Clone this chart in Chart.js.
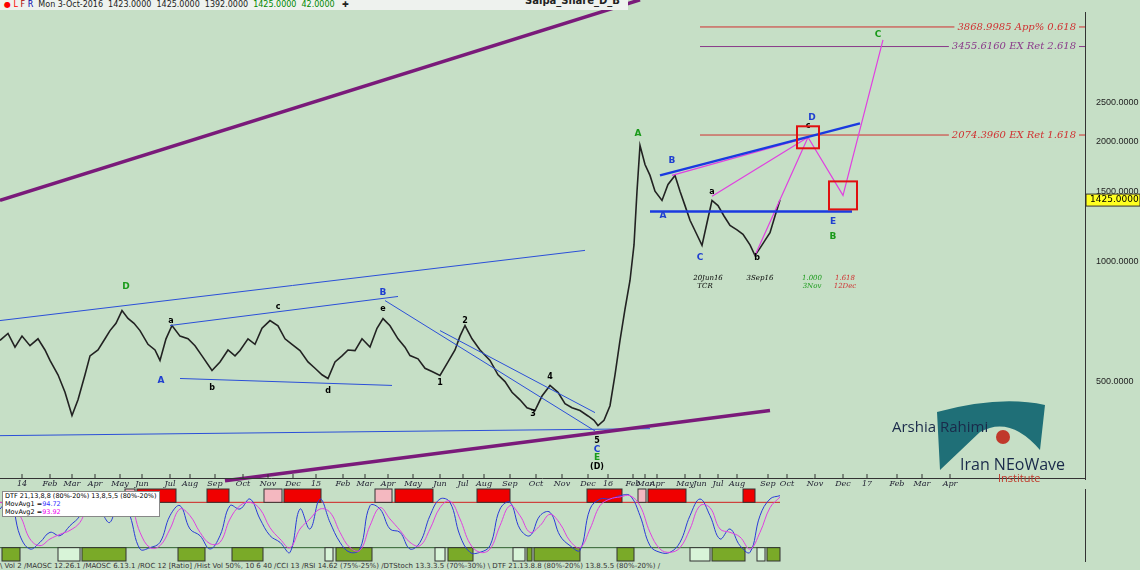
<!DOCTYPE html>
<html><head><meta charset="utf-8">
<script src="https://cdn.jsdelivr.net/npm/chart.js@4/dist/chart.umd.min.js"></script>
<style>
body{margin:0;width:1140px;height:570px;background:#c6dfc6;overflow:hidden;font-family:"DejaVu Sans",sans-serif;position:relative}
#top{position:absolute;left:0;top:0;width:1140px;height:10px;font-size:8px;line-height:10px;color:#222;white-space:nowrap}
#top .b{background:#eef2ee;display:inline-block;padding:0 4px;width:620px}
#c1{position:absolute;left:0;top:0}
#c2{position:absolute;left:0;top:488px}
.t{position:absolute;white-space:nowrap}
</style></head><body>
<canvas id="c1" width="1140" height="488"></canvas>
<canvas id="c2" width="1140" height="74"></canvas>
<div id="top"><span class="b"><span style="color:red">● L</span> <span style="color:#a00">F</span> <span style="color:#00a">R</span> &nbsp;Mon 3-Oct-2016 &nbsp;1423.0000 &nbsp;1425.0000 &nbsp;1392.0000 <span style="color:#080">&nbsp;1425.0000 &nbsp;42.0000</span> &nbsp; <b>✚</b></span>
<span style="position:absolute;left:525px;top:-4px;font-size:10px;font-weight:bold">Saipa_Share_D_B</span></div>
<div class="t" style="left:2px;top:491px;font-size:6.5px;line-height:8px;background:#fff;padding:0 2px;border:1px solid #888">DTF 21,13,8,8 (80%-20%) 13,8,5,5 (80%-20%)<br>MovAvg1 =<span style="color:#33f">94.72</span><br>MovAvg2 =<span style="color:#e0e">93.92</span></div>
<div class="t" style="left:0;top:562px;font-size:7px;color:#333">\ Vol 2 /MAOSC 12.26.1 /MAOSC 6.13.1 /ROC 12 [Ratio] /Hist Vol 50%, 10 6 40 /CCI 13 /RSI 14.62 (75%-25%) /DTStoch 13.3.3.5 (70%-30%) \ DTF 21.13.8.8 (80%-20%) 13.8.5.5 (80%-20%) /</div>
<div class="t" style="left:892px;top:416px;font-size:15px;color:#1a2a4a;font-family:'Open Sans',sans-serif">Arshia Rahimi</div>
<div class="t" style="left:960px;top:453px;font-size:16px;color:#1a2a4a;font-family:'Open Sans',sans-serif">Iran NEoWave</div>
<div class="t" style="left:998px;top:470px;font-size:11px;color:#c0392b;font-family:'Open Sans',sans-serif">Institute</div>
<script>
// ---- data ----
const priceX=[0,8,15,22,30,38,45,50,58,65,72,78,85,90,98,105,110,116,122,128,134,140,148,155,160,166,172,180,188,195,202,212,220,228,235,240,248,255,262,270,278,285,292,300,308,315,322,328,335,342,348,355,362,370,377,383,390,398,405,410,418,425,432,440,448,455,460,465,472,480,490,498,505,512,520,527,535,542,550,558,565,572,580,588,594,598,604,610,615,620,625,630,634,637,640,645,650,655,662,668,675,680,685,690,696,702,707,712,718,724,730,737,743,750,755,760,765,770,775,780];
const priceY=[634,660,610,650,615,640,600,565,520,470,411,450,520,580,600,640,671,700,753,720,700,671,620,600,565,640,691,650,640,615,580,533,560,600,580,598,640,620,680,711,690,640,620,598,560,540,520,509,560,580,600,598,640,610,680,719,690,640,610,581,570,540,530,518,560,600,650,691,640,600,565,520,500,470,450,430,423,460,489,470,440,430,423,410,400,388,400,435,520,634,760,896,1100,1500,1954,1750,1643,1500,1422,1560,1643,1500,1380,1268,1180,1097,1250,1422,1380,1300,1231,1200,1170,1100,1035,1080,1129,1180,1300,1425];
const yTicks=[500,1000,1500,2000,2500];
const monthLabels=["14","Feb","Mar","Apr","May","Jun","Jul","Aug","Sep","Oct","Nov","Dec","15","Feb","Mar","Apr","May","Jun","Jul","Aug","Sep","Oct","Nov","Dec","16","Feb","Mar","Apr","May","Jun","Jul","Aug","Sep","Oct","Nov","Dec","17","Feb","Mar","Apr"];
const monthX=[22,50,72,95,120,142,170,190,215,243,268,293,316,343,365,388,413,440,463,484,510,536,562,588,608,633,645,657,685,700,718,737,768,787,815,843,867,897,922,950];
const purpleLines=[[[0,1422],[640,4525]],[[225,282],[770,423]]];
const thinBlue=[[[0,711],[585,1066]],[[0,366],[650,381]],[[170,691],[398,817]],[[180,509],[392,489]],[[385,798],[595,376]],[[440,671],[595,418]]];
const thickBlue=[[[660,1643],[860,2218]],[[650,1335],[852,1335]]];
const pinkPaths=[[[672,1643],[808,2047]],[[712,1457],[808,2047]],[[755,1035],[808,2047],[843,1464],[883,3590]]];
const fibLevels=[3869,3456,2074];
const fibText=["3868.9985 App% 0.618","3455.6160 EX Ret 2.618","2074.3960 EX Ret 1.618"];
const fibColor=["#d03030","#8a3a8a","#d03030"];
const labels=[["D",126,866,"#1a9a1a"],["A",161,503,"#2040d0"],["a",171,711,"#000"],["b",212,483,"#000"],["c",278,771,"#000"],["d",328,475,"#000"],["B",383,836,"#2040d0"],["e",383,762,"#000"],["2",465,711,"#000"],["1",440,497,"#000"],["3",533,416,"#000"],["4",550,515,"#000"],["5",597,355,"#000"],["C",597,337,"#2040d0"],["E",597,322,"#1a9a1a"],["(D)",597,306,"#000"],
["A",638,2095,"#1a9a1a"],["B",672,1792,"#2040d0"],["A",663,1304,"#2040d0"],["C",700,1023,"#2040d0"],["a",712,1490,"#000"],["b",757,1023,"#000"],["D",812,2298,"#2040d0"],["c",808,2180,"#000"],["E",833,1260,"#2040d0"],["B",833,1155,"#1a9a1a"],["C",878,3707,"#1a9a1a"]];
const smallText=[["20Jun16",708,906,"#000"],["TCR",705,866,"#000"],["3Sep16",760,906,"#000"],["1.000",812,906,"#1a9a1a"],["3Nov",812,866,"#1a9a1a"],["1.618",845,906,"#d03030"],["12Dec",845,866,"#d03030"]];
const redSquares=[[808,2047,11],[843,1464,14]];
const lastPrice=1425;
// oscillator
const oscX=[0,10,20,30,40,50,60,70,80,90,100,110,120,130,140,150,160,170,180,190,200,210,220,230,240,250,260,270,280,290,300,310,320,330,340,350,360,370,380,390,400,410,420,430,440,450,460,470,480,490,500,510,520,530,540,550,560,570,580,590,600,610,620,630,640,650,660,670,680,690,700,710,720,730,740,750,760,770,780];
const oscBlue=[70,85,30,10,20,35,30,45,60,95,70,50,95,60,10,12,20,60,75,40,30,10,30,75,70,85,55,30,20,5,70,40,85,50,20,5,10,75,70,40,35,10,20,60,85,80,30,5,5,15,70,80,40,30,60,65,30,15,8,70,85,85,90,90,60,15,5,5,20,60,85,60,25,40,15,5,60,85,90];
const oscPink=[80,75,60,25,15,25,32,38,50,80,82,60,80,78,35,12,15,40,70,60,35,18,20,55,75,80,70,42,25,12,40,55,70,65,35,12,8,45,72,55,38,20,15,40,72,82,55,18,5,10,45,75,60,35,45,62,48,22,12,40,75,85,88,90,75,35,10,5,12,40,75,72,40,35,28,10,35,72,88];
const redBoxes=[[125,135,1],[137,176,0],[207,229,0],[264,282,1],[284,321,0],[375,392,1],[395,433,0],[477,510,0],[587,622,0],[638,646,1],[648,686,0],[743,755,0]];
const greenBoxes=[[2,20,0],[58,80,1],[82,126,0],[178,205,0],[232,263,0],[325,333,1],[336,372,0],[435,445,1],[448,473,0],[513,525,1],[527,532,0],[534,580,0],[617,634,0],[690,710,1],[712,745,0],[757,765,1],[767,780,0]];

const seg=(pts,color,w)=>({type:'line',data:pts.map(p=>({x:p[0],y:p[1]})),borderColor:color,borderWidth:w,pointRadius:0,tension:0,clip:false});
const ds=[];
purpleLines.forEach(l=>ds.push(seg(l,'#7a1a7a',3.5)));
thinBlue.forEach(l=>ds.push(seg(l,'#2b4fd8',1)));
thickBlue.forEach(l=>ds.push(seg(l,'#1a3ae0',2.5)));
pinkPaths.forEach(l=>ds.push(seg(l,'#e040e0',1.2)));
fibLevels.forEach((v,i)=>ds.push(seg([[700,v],[1085,v]],fibColor[i],1)));
ds.push({type:'line',data:priceX.map((x,i)=>({x,y:priceY[i]})),borderColor:'#222',borderWidth:1.6,pointRadius:0,tension:0});

const ann={id:'ann',afterDatasetsDraw(ch){
 const c=ch.ctx,xs=ch.scales.x,ys=ch.scales.y;
 c.save();
 c.textAlign='center';c.textBaseline='middle';
 labels.forEach(l=>{c.fillStyle=l[3];c.font=(l[3]=='#000'?'bold 8px':'bold 9px')+' "DejaVu Sans"';c.fillText(l[0],xs.getPixelForValue(l[1]),ys.getPixelForValue(l[2]));});
 c.font='italic 7px "DejaVu Serif"';
 smallText.forEach(l=>{c.fillStyle=l[3];c.fillText(l[0],xs.getPixelForValue(l[1]),ys.getPixelForValue(l[2]));});
 c.textAlign='right';c.font='italic 10px "DejaVu Serif"';
 fibLevels.forEach((v,i)=>{const y=ys.getPixelForValue(v);const w=c.measureText(fibText[i]).width;c.fillStyle='#c6dfc6';c.fillRect(1076-w-3,y-6,w+6,12);c.fillStyle=fibColor[i];c.fillText(fibText[i],1076,y);});
 c.strokeStyle='#e01010';c.lineWidth=2;
 redSquares.forEach(s=>{const x=xs.getPixelForValue(s[0]),y=ys.getPixelForValue(s[1]);c.strokeRect(x-s[2],y-s[2],2*s[2],2*s[2]);});
 const py=ys.getPixelForValue(lastPrice);
 c.fillStyle='#ffff20';c.fillRect(1086,py-6,54,12);c.strokeStyle='#333';c.lineWidth=1;c.strokeRect(1086,py-6,54,12);
 c.fillStyle='#000';c.textAlign='left';c.font='9px "DejaVu Sans"';c.fillText(lastPrice.toFixed(4),1090,py);
 c.font='italic 8px "DejaVu Serif"';c.fillStyle='#223';c.textAlign='center';
 c.strokeStyle='#333';c.beginPath();c.moveTo(0,478.5);c.lineTo(1085,478.5);c.stroke();
 monthLabels.forEach((m,i)=>{const x=xs.getPixelForValue(monthX[i]);c.beginPath();c.moveTo(x,478);c.lineTo(x,474);c.stroke();c.fillText(m,x,484);});
 c.fillStyle='#1f6f77';c.beginPath();c.moveTo(937,412);c.quadraticCurveTo(1000,395,1045,405);c.lineTo(1040,450);c.quadraticCurveTo(1010,415,980,432);c.lineTo(940,470);c.closePath();c.fill();
 c.fillStyle='#c0392b';c.beginPath();c.arc(1003,437,7,0,7);c.fill();
 c.restore();}};

new Chart(document.getElementById('c1'),{data:{datasets:ds},plugins:[ann],options:{responsive:false,animation:false,
 layout:{padding:{top:12,bottom:9,left:0,right:0}},
 plugins:{legend:{display:false},tooltip:{enabled:false}},
 scales:{x:{type:'linear',min:0,max:1085,display:false},
 y:{type:'logarithmic',position:'right',min:285,max:4218,afterFit(s){s.width=55;},
  afterBuildTicks(s){s.ticks=yTicks.map(v=>({value:v}));},
  grid:{display:false,drawTicks:true},border:{color:'#333'},
  ticks:{color:'#222',font:{size:9},padding:3,callback:v=>Number(v).toFixed(4)}}}}});

const boxes={id:'boxes',beforeDatasetsDraw(ch){
 const c=ch.ctx,xs=ch.scales.x,ys=ch.scales.y;c.save();
 c.strokeStyle='#d02020';c.lineWidth=1;const ry=ys.getPixelForValue(80);c.beginPath();c.moveTo(0,ry);c.lineTo(xs.getPixelForValue(780),ry);c.stroke();
 c.strokeStyle='#306030';const gy=ys.getPixelForValue(12);c.beginPath();c.moveTo(0,gy);c.lineTo(xs.getPixelForValue(780),gy);c.stroke();
 redBoxes.forEach(b=>{const x0=xs.getPixelForValue(b[0]),x1=xs.getPixelForValue(b[1]),y0=ys.getPixelForValue(100),y1=ys.getPixelForValue(80);c.fillStyle=b[2]?'#f4b8c0':'#f00000';c.fillRect(x0,y0,x1-x0,y1-y0);c.strokeStyle='#333';c.strokeRect(x0,y0,x1-x0,y1-y0);});
 greenBoxes.forEach(b=>{const x0=xs.getPixelForValue(b[0]),x1=xs.getPixelForValue(b[1]),y0=ys.getPixelForValue(12),y1=ys.getPixelForValue(-8);c.fillStyle=b[2]?'#d8f4d8':'#7aaa28';c.fillRect(x0,y0,x1-x0,y1-y0);c.strokeStyle='#333';c.strokeRect(x0,y0,x1-x0,y1-y0);});
 c.restore();}};
new Chart(document.getElementById('c2'),{type:'line',data:{datasets:[
 {data:oscX.map((x,i)=>({x,y:oscPink[i]})),borderColor:'#e040e0',borderWidth:1,pointRadius:0,tension:0.4},
 {data:oscX.map((x,i)=>({x,y:oscBlue[i]})),borderColor:'#2a3ad8',borderWidth:1,pointRadius:0,tension:0.4}]},
 plugins:[boxes],options:{responsive:false,animation:false,layout:{padding:{top:1,bottom:1}},plugins:{legend:{display:false},tooltip:{enabled:false}},
 scales:{x:{type:'linear',min:0,max:1085,display:false},y:{min:-8,max:100,position:'right',afterFit(s){s.width=55;},grid:{display:false},border:{color:'#333'},ticks:{display:false}}}}});
</script></body></html>
